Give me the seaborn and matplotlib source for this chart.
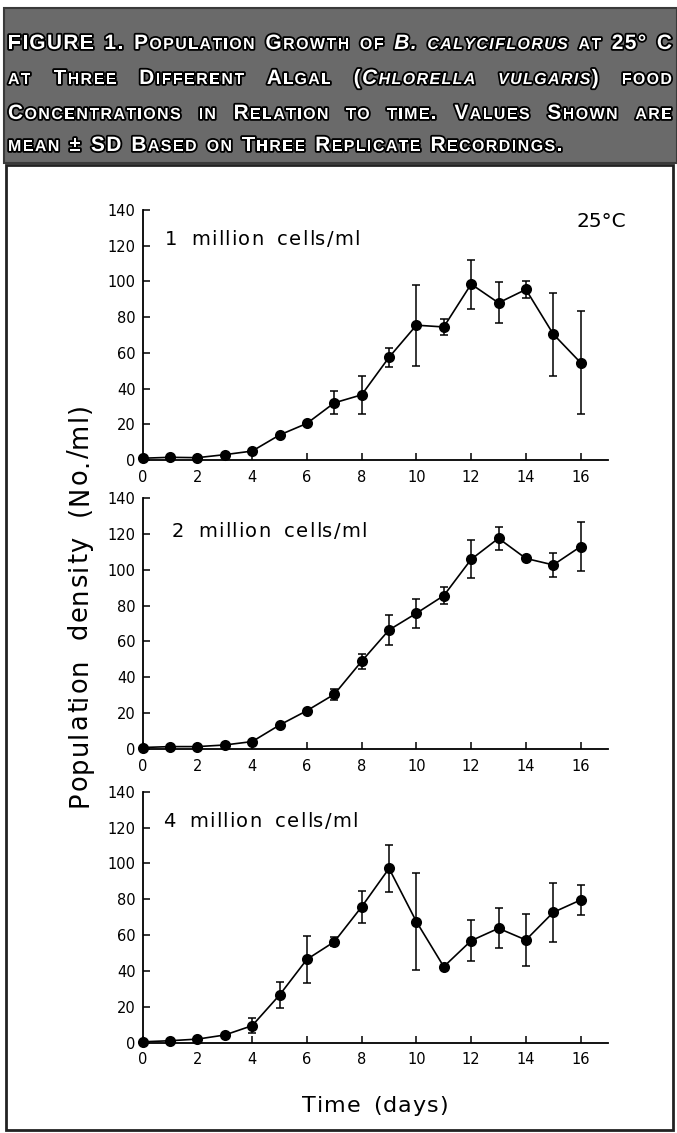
import matplotlib
matplotlib.use("Agg")
import matplotlib.pyplot as plt
import matplotlib.patheffects as pe
from matplotlib.patches import Rectangle
from matplotlib.transforms import IdentityTransform
import seaborn as sns
import pandas as pd

# ---------------- data ----------------
days = list(range(17))
mean_1m = [1, 1.5, 1.3, 3, 5, 14, 20.5, 32, 36.5, 57.5, 75.5, 74.5, 98.5, 88, 95.5, 70.5, 54.5]
sd_1m = [0, 0, 0, 0, 0, 0, 0, 6.5, 10.5, 5.5, 22.7, 4.5, 13.7, 11.5, 5, 23.3, 28.7]
mean_2m = [1, 1.5, 1.5, 2.4, 4.3, 13.5, 21.5, 30.6, 49, 66.4, 75.7, 85.5, 105.7, 117.4, 106.2, 102.6, 112.8]
sd_2m = [0, 0, 0, 0, 0, 0, 0, 3, 4.2, 8.5, 8.2, 4.8, 10.5, 6.3, 0, 6.9, 13.7]
mean_4m = [0.5, 1.1, 2, 4.3, 9.5, 26.6, 46.5, 56.3, 75.8, 97.2, 67.5, 42.4, 56.9, 63.8, 57.3, 72.7, 79.6]
sd_4m = [0, 0, 0, 0, 4.2, 7.2, 13, 2.5, 8.8, 13, 27, 0, 11.4, 11.2, 14.6, 16.5, 8.1]
panel_labels = ["1 million cells/ml", "2 million cells/ml", "4 million cells/ml"]
x_ticks = list(range(0, 17, 2))
y_ticks = list(range(0, 141, 20))
header_lines = [
    "FIGURE 1. Population Growth of _B. calyciflorus_ at 25° C",
    "at Three Different Algal (_Chlorella vulgaris_) food",
    "Concentrations in Relation to time. Values Shown are",
    "mean ± SD Based on Three Replicate Recordings.",
]

sns.set_theme(style="ticks")
plt.rcParams["font.family"] = ["DejaVu Sans"]

W, H = 677, 1133
fig = plt.figure(figsize=(W / 100, H / 100), dpi=100)
fig.patch.set_facecolor("white")
R = fig.canvas.get_renderer()
IDT = IdentityTransform()


def text_w(s, size, **kw):
    t = fig.text(0, 0, s, transform=IDT, fontsize=size, **kw)
    w = t.get_window_extent(renderer=R).width
    t.remove()
    return w


def adv(ch, size, **kw):
    return text_w("|" + ch + "|", size, **kw) - text_w("||", size, **kw)


def tracked(s, x, y, size, length=None, rotation=0, space_share=0.5, **kw):
    """Draw text centred at x (or y when rotated), stretched to a target length;
    part of the extra room goes to word gaps, the rest to letter spacing."""
    widths = [adv(ch, size, **kw) for ch in s]
    n = len(s)
    nsp = s.count(" ")
    extra = (length - sum(widths)) if length is not None else 0.0
    sp_extra = extra * space_share / max(nsp, 1) if nsp else 0.0
    track = extra * (1 - space_share if nsp else 1.0) / (n - 1)
    start = (x if rotation == 0 else y) - (sum(widths) + extra) / 2
    off = 0.0
    for ch, w in zip(s, widths):
        pos = (start + off, y) if rotation == 0 else (x, start + off)
        if ch != " ":
            fig.text(pos[0], pos[1], ch, transform=IDT, fontsize=size, ha="left",
                     va="baseline", rotation=rotation, rotation_mode="anchor", **kw)
        off += w + track + (sp_extra if ch == " " else 0.0)


# ---------------- frame and header band ----------------
fig.patches.append(Rectangle((6, 3), 667, 965, transform=IDT, fill=False,
                             edgecolor="#222222", linewidth=2))
fig.patches.append(Rectangle((4, 970), 673, 155, transform=IDT,
                             facecolor="#6a6a6a", edgecolor="#3a3a3a", linewidth=1.5))

HF = "Liberation Sans"
BIG, SMALL = 15, 11.5
HTRACK = 1.4
stroke = [pe.withStroke(linewidth=2.6, foreground="black")]


def header_line(text, base_from_top, x_left, x_right, justify, gap_nat=10):
    italic = False
    words = []
    for w in text.split(" "):
        chars = []
        for ch in w:
            if ch == "_":
                italic = not italic
                continue
            size = SMALL if ch.islower() else BIG
            kw = dict(family=HF, fontweight="bold",
                      fontstyle="italic" if italic else "normal")
            chars.append((ch.upper(), size, kw, adv(ch.upper(), size, **kw)))
        words.append(chars)
    widths = [sum(c[3] for c in wd) + HTRACK * (len(wd) - 1) for wd in words]
    if justify:
        gap = (x_right - x_left - sum(widths)) / (len(words) - 1)
    else:
        gap = gap_nat
    x = x_left
    y = H - base_from_top
    for wd, ww in zip(words, widths):
        xx = x
        for ch, size, kw, a in wd:
            fig.text(xx, y, ch, transform=IDT, fontsize=size, color="white",
                     ha="left", va="baseline", path_effects=stroke, **kw)
            xx += a + HTRACK
        x += ww + gap


header_line(header_lines[0], 49, 8, 672, True)
header_line(header_lines[1], 84, 8, 672, True)
header_line(header_lines[2], 119, 8, 672, True)
header_line(header_lines[3], 151, 8, 672, False)

# ---------------- panels ----------------
means = [mean_1m, mean_2m, mean_4m]
sds = [sd_1m, sd_2m, sd_4m]
zero_px = [460, 749.3, 1042.7]
top_px = [210, 497.7, 791.7]
lab_base = [245, 537, 827]
lab_x = [(165, 360), (172, 367), (163, 358)]
left_px, right_px = 142.7, 608

for i in range(3):
    ax = fig.add_axes([left_px / W, (H - zero_px[i]) / H, (right_px - left_px) / W,
                       (zero_px[i] - top_px[i]) / H])
    ax.set_facecolor("none")
    df = pd.DataFrame({"day": days, "mean": means[i], "sd": sds[i]})
    ax.errorbar(df["day"], df["mean"], yerr=df["sd"], fmt="none", ecolor="black",
                elinewidth=1.1, capsize=3, capthick=1.1, clip_on=False, zorder=2)
    sns.lineplot(data=df, x="day", y="mean", ax=ax, color="black", marker="o",
                 markersize=8, markeredgewidth=0, linewidth=1.2, clip_on=False,
                 zorder=3, errorbar=None)
    ax.set_xlim(0, 17)
    ax.set_ylim(0, 140)
    ax.set_xticks(x_ticks)
    ax.set_yticks(y_ticks)
    ax.set_xlabel("")
    ax.set_ylabel("")
    sns.despine(ax=ax)
    for sp in ("left", "bottom"):
        ax.spines[sp].set_linewidth(1.3)
        ax.spines[sp].set_color("black")
    ax.tick_params(direction="in", length=5, width=1.1, labelsize=10.5,
                   colors="black")
    ax.tick_params(axis="x", pad=7)
    ax.tick_params(axis="y", pad=5)
    x0, x1 = lab_x[i]
    tracked(panel_labels[i], (x0 + x1) / 2, H - lab_base[i], 14, length=x1 - x0,
            space_share=0.35, color="black")

fig.text(601, H - 227, "25°C", transform=IDT, fontsize=14.5, ha="center",
         va="baseline", color="black")

tracked("Population density (No./ml)", 87, H - 605, 18.5, length=404, rotation=90,
        space_share=0.35, color="black")
tracked("Time (days)", 375, H - 1112, 16, length=145, space_share=0.35, color="black")

fig.savefig("out.png", dpi=100)
